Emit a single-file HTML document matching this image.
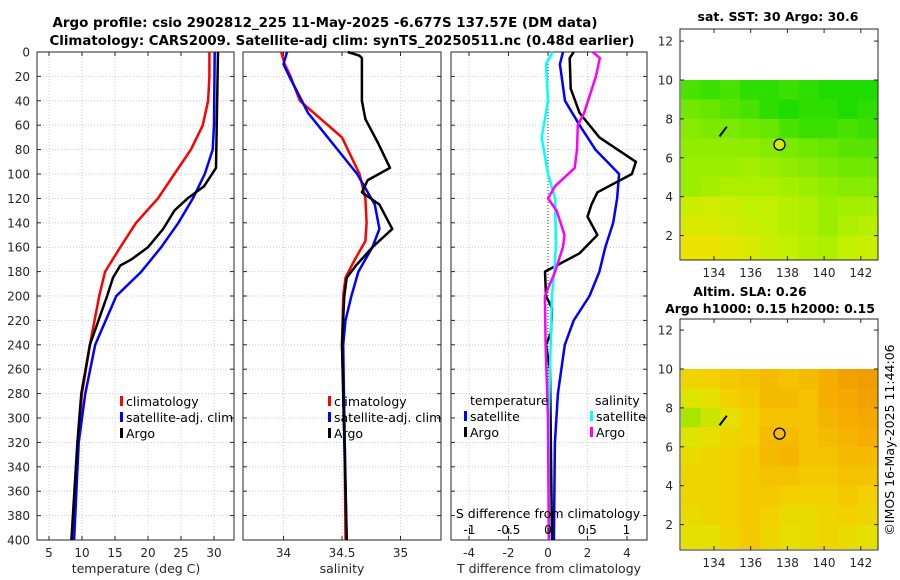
<!DOCTYPE html>
<html><head><meta charset="utf-8"><style>
body{margin:0;background:#fff}
svg{display:block;font-family:"DejaVu Sans","Liberation Sans",sans-serif}
</style></head><body>
<svg id="s" width="900" height="580" viewBox="0 0 900 580" xmlns="http://www.w3.org/2000/svg">
<rect width="900" height="580" fill="#fff"/>
<g font-weight="bold" font-size="13" text-anchor="middle" fill="#000">
<text x="325" y="27" textLength="545" lengthAdjust="spacingAndGlyphs">Argo profile: csio 2902812_225 11-May-2025 -6.677S 137.57E (DM data)</text>
<text x="342" y="45" textLength="585" lengthAdjust="spacingAndGlyphs">Climatology: CARS2009. Satellite-adj clim: synTS_20250511.nc (0.48d earlier)</text>
</g>
<g id="plots"></g>
</svg>
<script>
// ---- profile data ----
const tClimDepth=[0,20,40,60,80,100,120,140,160,180,200,240,280,320,360,400];
const tClimVal=[29.3,29.3,29.1,28.3,26.5,24.0,21.5,18.2,15.8,13.5,12.6,11.2,10.0,9.4,8.9,8.5];
const tSatDepth=[0,60,80,100,120,140,160,180,200,240,280,320,400];
const tSatVal=[30.1,30.0,29.8,28.6,26.8,24.6,22.0,19.0,15.2,12.0,10.5,9.5,8.8];
const tArgoDepth=[0,95,110,120,130,145,160,170,175,185,200,240,280,320,400];
const tArgoVal=[30.6,30.3,28.5,26.0,24.0,22.3,20.0,17.5,15.8,14.7,13.8,11.2,9.9,9.3,8.4];
const sClimDepth=[0,10,20,40,70,100,120,140,155,170,185,200,240,300,400];
const sClimVal=[33.98,34.01,34.06,34.14,34.5,34.65,34.70,34.71,34.70,34.61,34.53,34.51,34.50,34.52,34.53];
const sSatDepth=[0,10,20,50,100,125,145,160,180,200,220,240,300,400];
const sSatVal=[34.03,34.0,34.05,34.21,34.63,34.78,34.82,34.76,34.64,34.58,34.53,34.51,34.52,34.54];
const sArgoDepth=[0,3,5,40,55,75,95,105,115,125,145,160,175,185,200,240,400];
const sArgoVal=[34.55,34.65,34.67,34.67,34.70,34.81,34.91,34.72,34.67,34.82,34.93,34.76,34.62,34.54,34.52,34.50,34.54];
const dTSatDepth=[0,10,40,60,80,100,120,140,160,180,200,220,240,280,320,400];
const dTSatVal=[0.76,0.6,0.86,1.6,2.4,3.6,3.5,3.3,2.9,2.6,2.1,1.3,0.85,0.5,0.35,0.3];
const dTArgoDepth=[0,5,30,50,70,90,100,115,125,135,150,165,180,200,210,230,240,260,400];
const dTArgoVal=[1.3,1.1,1.15,1.6,2.6,4.45,4.25,2.5,2.2,2.0,2.5,1.6,-0.15,-0.1,0.2,0.15,-0.1,0.1,0.2];
const dSSatDepth=[0,10,40,70,100,120,160,180,200,300,400];
const dSSatVal=[0.06,-0.025,0,-0.08,0,0.09,0.1,0.08,0.05,0.01,0.01];
const dSArgoDepth=[0,5,20,50,60,80,95,110,120,130,150,160,180,200,240,300,400];
const dSArgoVal=[0.57,0.66,0.61,0.46,0.38,0.37,0.34,0.09,0,0.11,0.21,0.19,0.09,-0.04,-0.03,0,0.01];
const depthTicks=[0,20,40,60,80,100,120,140,160,180,200,220,240,260,280,300,320,340,360,380,400];
const tTicks=[5,10,15,20,25,30];
const sTicks=[34,34.5,35];
const dTTicks=[-4,-2,0,2,4];
const dSTicks=[-1,-0.5,0,0.5,1];
// ---- map data ----
const lonTicks=[134,136,138,140,142];
const latTicks=[2,4,6,8,10,12];
const gridLon=[132.2,133.27,134.34,135.41,136.48,137.55,138.62,139.69,140.76,141.83,142.9];
const gridLat=[10,9,8,7,6,5,4,3,2,0.77];
const sstGrid=[
[29.2,29.1,29.2,29.0,29.0,29.1,29.0,28.9,28.9,28.9],
[29.5,29.4,29.3,29.2,29.0,28.9,29.0,29.0,28.9,29.0],
[29.7,29.6,29.6,29.5,29.4,29.2,29.1,29.1,29.2,29.1],
[29.8,29.8,29.8,29.8,29.7,29.6,29.5,29.4,29.3,29.3],
[29.9,29.9,29.9,30.0,29.9,29.8,29.7,29.6,29.5,29.5],
[29.9,30.0,30.1,30.1,30.1,30.0,29.9,29.8,29.7,29.7],
[30.4,30.5,30.4,30.3,30.3,30.2,30.1,29.9,30.0,30.0],
[30.6,30.6,30.5,30.4,30.3,30.2,30.1,29.9,30.1,30.2],
[30.8,30.8,30.7,30.6,30.4,30.3,30.2,30.1,30.3,30.4]];
const slaGrid=[
[0.22,0.23,0.24,0.25,0.26,0.25,0.26,0.28,0.30,0.31],
[0.19,0.20,0.23,0.24,0.26,0.26,0.25,0.28,0.29,0.30],
[0.16,0.18,0.20,0.23,0.25,0.25,0.25,0.27,0.28,0.29],
[0.19,0.20,0.22,0.23,0.26,0.26,0.25,0.26,0.27,0.28],
[0.21,0.22,0.23,0.24,0.26,0.27,0.25,0.25,0.26,0.26],
[0.22,0.22,0.23,0.24,0.25,0.25,0.24,0.24,0.25,0.25],
[0.22,0.22,0.23,0.24,0.24,0.23,0.23,0.23,0.24,0.23],
[0.21,0.22,0.23,0.24,0.23,0.21,0.21,0.22,0.23,0.22],
[0.20,0.20,0.22,0.24,0.22,0.20,0.21,0.22,0.21,0.20]];
const argoLon=137.57, argoLat=6.677;

const NS="http://www.w3.org/2000/svg";
const root=document.getElementById('plots');
function mk(tag,at,parent){const e=document.createElementNS(NS,tag);for(const k in at)e.setAttribute(k,at[k]);(parent||root).appendChild(e);return e;}
function txt(x,y,s,at,parent){const e=mk('text',Object.assign({x:x,y:y,'font-size':12,fill:'#262626'},at),parent);e.textContent=s;return e;}
const yD=d=>52+d*1.22;
const xT=v=>49+(v-5)*6.6;
const xS=v=>342+(v-34.5)*117;
const xdT=v=>548+v*19.75;
const xdS=v=>548+v*78.5;

function panel(name,x0,x1,xticks,xf,xlabels){
  const g=mk('g',{});
  
  
  for(const t of xticks) mk('line',{x1:xf(t),x2:xf(t),y1:52,y2:540,stroke:'#b8c0e0','stroke-width':0.8,'stroke-dasharray':'1,2'},g);
  for(const d of depthTicks){mk('line',{x1:x0,x2:x1,y1:yD(d),y2:yD(d),stroke:'#b8c0e0','stroke-width':0.8,'stroke-dasharray':'1,2'},g);
    mk('line',{x1:x0,x2:x0+4,y1:yD(d),y2:yD(d),stroke:'#262626'},g);mk('line',{x1:x1-4,x2:x1,y1:yD(d),y2:yD(d),stroke:'#262626'},g);}
  for(const t of xticks){mk('line',{x1:xf(t),x2:xf(t),y1:536,y2:540,stroke:'#262626'},g);mk('line',{x1:xf(t),x2:xf(t),y1:52,y2:56,stroke:'#262626'},g);
    if(xlabels) txt(xf(t),557,String(t),{'text-anchor':'middle'},g);}
  mk('rect',{x:x0,y:52,width:x1-x0,height:488,fill:'none',stroke:'#262626','stroke-width':1},g);
  return g;
}
function series(name,depths,vals,xf,color,w){
  const p=mk('polyline',{points:depths.map((d,i)=>xf(vals[i]).toFixed(1)+','+yD(d).toFixed(1)).join(' '),fill:'none',stroke:color,'stroke-width':w||2.5,'stroke-linejoin':'round'});
  
  
}
function legend(x,y,color,label,name){
  const g=mk('g',{});
  
  
  mk('rect',{x:x,y:y-10,width:3,height:10,fill:color},g);
  txt(x+6,y,label,{'font-size':12.5,fill:'#000'},g);
}
// panel 1
panel('temperature-panel',37,234,tTicks,xT,true);
for(const d of depthTicks){const t=txt(30,yD(d)+4.5,String(d),{'text-anchor':'end'});}
series('temp-climatology-line',tClimDepth,tClimVal,xT,'#f00');
series('temp-satellite-line',tSatDepth,tSatVal,xT,'#00f');
series('temp-argo-line',tArgoDepth,tArgoVal,xT,'#000');
legend(120,406,'#f00','climatology','legend-climatology');
legend(120,422,'#00f','satellite-adj. clim','legend-satellite');
legend(120,438,'#000','Argo','legend-argo');
txt(136,573,'temperature (deg C)',{'text-anchor':'middle','font-size':12.5});
// panel 2
panel('salinity-panel',243,441,sTicks,xS,true);
series('sal-climatology-line',sClimDepth,sClimVal,xS,'#f00');
series('sal-satellite-line',sSatDepth,sSatVal,xS,'#00f');
series('sal-argo-line',sArgoDepth,sArgoVal,xS,'#000');
legend(328,406,'#f00','climatology','legend-climatology-2');
legend(328,422,'#00f','satellite-adj. clim','legend-satellite-2');
legend(328,438,'#000','Argo','legend-argo-2');
txt(342,573,'salinity',{'text-anchor':'middle','font-size':12.5});
// panel 3
panel('difference-panel',451,647,dTTicks,xdT,true);
mk('line',{x1:548,x2:548,y1:52,y2:540,stroke:'#333','stroke-width':1,'stroke-dasharray':'1,2'});
series('diff-t-satellite-line',dTSatDepth,dTSatVal,xdT,'#00f');
series('diff-t-argo-line',dTArgoDepth,dTArgoVal,xdT,'#000');
series('diff-s-satellite-line',dSSatDepth,dSSatVal,xdS,'#0ff');
series('diff-s-argo-line',dSArgoDepth,dSArgoVal,xdS,'#f0f');
txt(470,405,'temperature',{'font-size':12.5,fill:'#000'});
txt(595,405,'salinity',{'font-size':12.5,fill:'#000'});
legend(464,421,'#00f','satellite','legend-t-satellite');
legend(464,437,'#000','Argo','legend-t-argo');
legend(590,421,'#0ff','satellite','legend-s-satellite');
legend(590,437,'#f0f','Argo','legend-s-argo');
txt(548,518,'S difference from climatology',{'text-anchor':'middle','font-size':12.5,fill:'#000'});
for(const t of dSTicks){txt(xdS(t),534,String(t),{'text-anchor':'middle',fill:'#000'});mk('line',{x1:xdS(t),x2:xdS(t),y1:528,y2:534,stroke:'#000'});}
txt(549,573,'T difference from climatology',{'text-anchor':'middle','font-size':12.5});

// maps
function ramp(stops,f){const p=Math.max(0,Math.min(1,f))*(stops.length-1),i=Math.min(stops.length-2,Math.floor(p)),r=p-i;
  return 'rgb('+stops[i].map((c,k)=>Math.round(c+(stops[i+1][k]-c)*r)).join(',')+')';}
function sstColor(v){return ramp([[30,220,0],[100,230,0],[150,238,0],[195,240,0],[235,228,0]],(v-28.9)/1.9);}
function slaColor(v){return ramp([[150,230,0],[225,228,0],[245,205,0],[245,175,0],[240,150,0]],(v-0.15)/0.17);}
function map(name,top,bottom,latTop,grid,colf,titles,fillCircle){
  const g=mk('g',{});
  
  
  const x0=680,x1=878;
  const xL=lon=>714+(lon-134)*18.35;
  const yL=lat=>latTop+(10-lat)*19.45;
  for(let r=0;r<grid.length;r++)for(let c=0;c<grid[r].length;c++){
    const xa=Math.max(x0,xL(gridLon[c])),xb=Math.min(x1,xL(gridLon[c+1]));
    const ya=yL(gridLat[r]),yb=Math.min(bottom,yL(gridLat[r+1]));
    const cell=mk('rect',{x:xa,y:ya,width:xb-xa+0.5,height:yb-ya+0.5,fill:colf(grid[r][c])},g);
    
    
  }
  mk('path',{d:`M${xL(134.3)},${yL(7.1)} L${xL(134.7)},${yL(7.6)}`,stroke:'#000','stroke-width':2},g);
  mk('circle',{cx:xL(argoLon),cy:yL(argoLat),r:5.5,fill:fillCircle?colf(fillCircle):'none',stroke:'#000','stroke-width':1.3},g);
  mk('rect',{x:x0,y:top,width:x1-x0,height:bottom-top,fill:'none',stroke:'#262626'},g);
  for(const t of lonTicks){mk('line',{x1:xL(t),x2:xL(t),y1:bottom-4,y2:bottom,stroke:'#262626'},g);mk('line',{x1:xL(t),x2:xL(t),y1:top,y2:top+4,stroke:'#262626'},g);txt(xL(t),bottom+17,String(t),{'text-anchor':'middle'},g);}
  for(const t of latTicks){const y=yL(t);if(y<top||y>bottom)continue;mk('line',{x1:x0,x2:x0+4,y1:y,y2:y,stroke:'#262626'},g);mk('line',{x1:x1-4,x2:x1,y1:y,y2:y,stroke:'#262626'},g);txt(673,y+4.5,String(t),{'text-anchor':'end'},g);}
  titles.forEach((t,i)=>txt(t[1],t[2],t[0],{'text-anchor':'middle','font-weight':'bold','font-size':12.5,fill:'#000'},g));
}
map('sst-map',29,260,80,sstGrid,sstColor,[['sat. SST: 30 Argo: 30.6',778,21]],30.6);
map('sla-map',319,550,369,slaGrid,slaColor,[['Altim. SLA: 0.26',750,296],['Argo h1000: 0.15 h2000: 0.15',770,313]],null);
const cr=txt(0,0,'©IMOS 16-May-2025 11:44:06',{'text-anchor':'middle','font-size':12.5,fill:'#000',transform:'translate(894,440) rotate(-90)'});


</script>
</body></html>
